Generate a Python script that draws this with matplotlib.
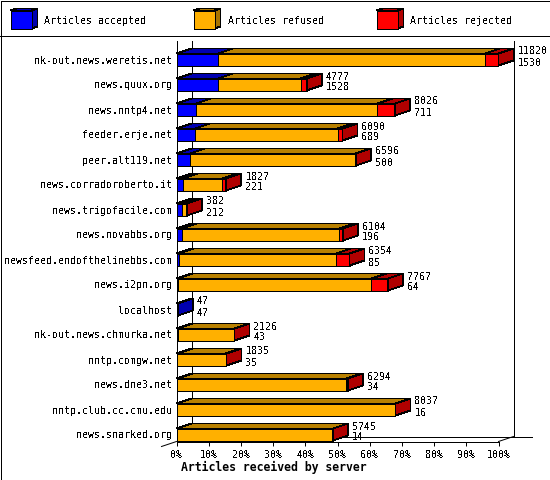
import matplotlib
matplotlib.use("Agg")
import matplotlib.pyplot as plt
from matplotlib.patches import Polygon, Rectangle
from matplotlib.lines import Line2D

servers = ["nk-out.news.weretis.net", "news.quux.org", "news.nntp4.net", "feeder.erje.net",
           "peer.alt119.net", "news.corradoroberto.it", "news.trigofacile.com", "news.novabbs.org",
           "newsfeed.endofthelinebbs.com", "news.i2pn.org", "localhost", "nk-out.news.chmurka.net",
           "nntp.comgw.net", "news.dne3.net", "nntp.club.cc.cmu.edu", "news.snarked.org"]
totals = [11820, 4777, 8026, 6090, 6596, 1827, 382, 6104, 6354, 7767, 47, 2126, 1835, 6294, 8037, 5745]
accepted = [1530, 1528, 711, 689, 500, 221, 212, 196, 85, 64, 47, 43, 35, 34, 16, 14]
rejected = [488, 220, 650, 180, 40, 150, 10, 130, 490, 610, 0, 5, 35, 55, 5, 5]
legend_names = ["Articles accepted", "Articles refused", "Articles rejected"]
pct_ticks = list(range(0, 101, 10))
xlabel = "Articles received by server"

FRONT = ["#0000ff", "#ffb000", "#ff0000"]
TOP = ["#0000b0", "#b88000", "#b00000"]
SIDE = ["#0000b0", "#a87400", "#b00000"]

W, H = 550, 480
LW = 0.55
LA = 0.72
plt.rcParams["text.antialiased"] = False
fig = plt.figure(figsize=(W / 100, H / 100), dpi=100, facecolor="white")
FP = 10 * 72 / 100  # 10 px monospace
mono = "DejaVu Sans Mono"

# overlay in pixel coordinates for frame + legend
ov = fig.add_axes([0, 0, 1, 1])
ov.set_xlim(0, W); ov.set_ylim(H, 0); ov.axis("off")
def pline(x, y, lw=LW):
    ov.add_line(Line2D(x, y, color="black", lw=lw, antialiased=False))
pline([0.5, W - 0.5, W - 0.5, 0.5, 0.5], [0.5, 0.5, H - 0.5, H - 0.5, 0.5])
pline([0, W], [35.5, 35.5])
for name, x, f, s in zip(legend_names, [10.5, 193.5, 376.5], FRONT, SIDE):
    ov.add_patch(Polygon([(x, 10.5), (x + 6, 8.5), (x + 27, 8.5), (x + 21, 10.5)], fc=s, ec="black", lw=LW, aa=False))
    ov.add_patch(Polygon([(x + 21, 10.5), (x + 27, 8.5), (x + 27, 26.5), (x + 21, 28.5)], fc=s, ec="black", lw=LW, aa=False))
    ov.add_patch(Rectangle((x, 10.5), 21, 18, fc=f, ec="black", lw=LW, aa=False))
    ov.text(x + 34, 21, name, family=mono, fontsize=FP, va="center", ha="left")

# chart axes
X0, X1, YT, YB = 176.5, 498.5, 40.5, 441.5
ax = fig.add_axes([X0 / W, 1 - YB / H, (X1 - X0) / W, (YB - YT) / H])
ax.patch.set_visible(False)
ax.set_xlim(0, 100)
ax.set_ylim((YB - 59.5) / 25, (YT - 59.5) / 25)
DX = 15 * 100 / (X1 - X0)
DY = 5 / 25
HB = 6 / 25
for sp in ["top", "right"]:
    ax.spines[sp].set_visible(False)
for sp in ["left", "bottom"]:
    ax.spines[sp].set_linewidth(LA)

ymin, ymax = ax.get_ylim()
floor_y = ymin - DY
K = dict(color="black", lw=LA, antialiased=True, clip_on=False, zorder=1.5)
ax.add_line(Line2D([DX, DX], [ymax, floor_y], **K))
ax.add_line(Line2D([100 + DX, 100 + DX], [ymax, floor_y], **K))
ax.add_line(Line2D([DX, 100 + DX + 18 * 100 / (X1 - X0)], [floor_y, floor_y], **K))
ax.add_line(Line2D([100, 100 + DX], [ymin, floor_y], **K))
ax.add_line(Line2D([-DX, 0], [ymin + DY, ymin], **K))

mx = max(totals)
for i, (t, a, r) in enumerate(zip(totals, accepted, rejected)):
    vals = [a, t - a - r, r]
    left = 0
    shown = [(v, c) for v, c in zip(vals, range(3)) if v > 0]
    for v, c in shown:
        w = v / mx * 100
        ax.add_patch(Polygon([(left, i - HB), (left + DX, i - HB - DY), (left + w + DX, i - HB - DY), (left + w, i - HB)],
                             fc=TOP[c], ec="black", lw=LW, aa=False, clip_on=False, zorder=2))
        ax.barh(i, w, left=left, height=2 * HB, color=FRONT[c], edgecolor="black", lw=LW, antialiased=False, zorder=3)
        left += w
    c = shown[-1][1]
    ax.add_patch(Polygon([(left, i - HB), (left + DX, i - HB - DY), (left + DX, i + HB - DY), (left, i + HB)],
                         fc=SIDE[c], ec="black", lw=LW, aa=False, clip_on=False, zorder=3))
    ax.annotate(str(t), (left + DX, i), xytext=(3, 8 * .72), textcoords="offset points", family=mono, fontsize=FP, va="center", ha="left", zorder=5, annotation_clip=False)
    ax.annotate(str(a), (left + DX, i), xytext=(3, -3 * .72), textcoords="offset points", family=mono, fontsize=FP, va="center", ha="left", zorder=5, annotation_clip=False)

ax.set_yticks(range(len(servers)), servers, family=mono, fontsize=FP)
ax.set_xticks(pct_ticks, [f"{p}%" for p in pct_ticks], family=mono, fontsize=FP)
ax.tick_params(axis="y", length=0, pad=3)
ax.tick_params(axis="x", length=3, width=LA, pad=3)
fig.text(274 / W, 1 - 467 / H, xlabel, family=mono, weight="bold", fontsize=8.3, ha="center", va="center", antialiased=True)
fig.savefig("out.png", dpi=100)
